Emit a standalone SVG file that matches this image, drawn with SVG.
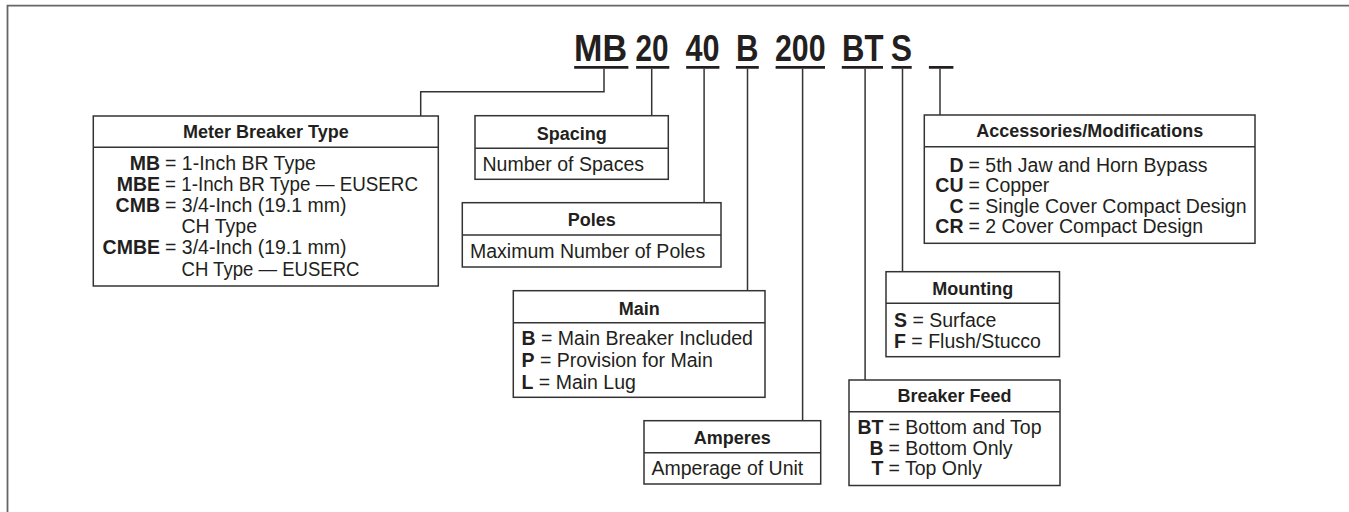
<svg xmlns="http://www.w3.org/2000/svg" width="1349" height="512" viewBox="0 0 1349 512">
<style>
text{font-family:"Liberation Sans",Arial,sans-serif;fill:#231f20}
.code{font-size:37px;font-weight:bold}
.t{font-size:18px;font-weight:bold;text-anchor:middle}
.b{font-size:19.5px}
.k{font-weight:bold}
.box{fill:#fff;stroke:#333;stroke-width:1.5}
.div{stroke:#333;stroke-width:1.5}
.con{fill:none;stroke:#333;stroke-width:1.5}
.ul{stroke:#231f20;stroke-width:2.8}
</style>
<rect width="1349" height="512" fill="#fff"/>
<path d="M7.5 512V5.7H1349" fill="none" stroke="#666" stroke-width="1.8"/>
<g id="code">
<text class="code" x="574" y="61" textLength="53" lengthAdjust="spacingAndGlyphs">MB</text>
<text class="code" x="635.5" y="61" textLength="33" lengthAdjust="spacingAndGlyphs">20</text>
<text class="code" x="685.5" y="61" textLength="34" lengthAdjust="spacingAndGlyphs">40</text>
<text class="code" x="736" y="61" textLength="22.5" lengthAdjust="spacingAndGlyphs">B</text>
<text class="code" x="775" y="61" textLength="50.5" lengthAdjust="spacingAndGlyphs">200</text>
<text class="code" x="842" y="61" textLength="41.5" lengthAdjust="spacingAndGlyphs">BT</text>
<text class="code" x="891" y="61" textLength="21" lengthAdjust="spacingAndGlyphs">S</text>
<path class="ul" d="M574.2 67.3H628.4M636.1 67.3H669.3M686.2 67.3H719.4M735.9 67.3H758.8M775.6 67.3H825M841.8 67.3H883M891.5 67.3H911.7M928.9 67.3H953.4"/>
</g>
<g id="connectors">
<path class="con" d="M604 68.7V91.7H420.7V116"/>
<path class="con" d="M651.7 68.7V115.7"/>
<path class="con" d="M704.1 68.7V202.7"/>
<path class="con" d="M747.5 68.7V290.7"/>
<path class="con" d="M802.6 68.7V420.7"/>
<path class="con" d="M865.1 68.7V380"/>
<path class="con" d="M902.5 68.7V271.7"/>
<path class="con" d="M940 68.7V115"/>
</g>
<g id="meter-breaker-type">
<rect class="box" x="93.3" y="116" width="345" height="170"/>
<line class="div" x1="93.3" y1="147.3" x2="438.3" y2="147.3"/>
<text class="t" x="265.8" y="138">Meter Breaker Type</text>
<text class="b" y="169.5"><tspan class="k" x="160" text-anchor="end">MB</tspan><tspan x="165">= 1-Inch BR Type</tspan></text>
<text class="b" y="190.7"><tspan class="k" x="160" text-anchor="end">MBE</tspan><tspan x="165" textLength="253" lengthAdjust="spacingAndGlyphs">= 1-Inch BR Type — EUSERC</tspan></text>
<text class="b" y="211.9"><tspan class="k" x="160" text-anchor="end">CMB</tspan><tspan x="165">= 3/4-Inch (19.1 mm)</tspan></text>
<text class="b" x="181.5" y="233.1">CH Type</text>
<text class="b" y="254.3"><tspan class="k" x="160" text-anchor="end">CMBE</tspan><tspan x="165">= 3/4-Inch (19.1 mm)</tspan></text>
<text class="b" x="181.5" y="275.5" textLength="178" lengthAdjust="spacingAndGlyphs">CH Type — EUSERC</text>
</g>
<g id="spacing">
<rect class="box" x="475" y="115.7" width="193.3" height="63.6"/>
<line class="div" x1="475" y1="148.3" x2="668.3" y2="148.3"/>
<text class="t" x="571.7" y="140">Spacing</text>
<text class="b" x="482.5" y="170.7">Number of Spaces</text>
</g>
<g id="poles">
<rect class="box" x="462.3" y="202.7" width="258.7" height="64.3"/>
<line class="div" x1="462.3" y1="235" x2="721" y2="235"/>
<text class="t" x="591.7" y="226">Poles</text>
<text class="b" x="470" y="258.3">Maximum Number of Poles</text>
</g>
<g id="main">
<rect class="box" x="513.3" y="290.7" width="251.7" height="106.6"/>
<line class="div" x1="513.3" y1="322.7" x2="765" y2="322.7"/>
<text class="t" x="639.2" y="314.5">Main</text>
<text class="b" x="521.5" y="345"><tspan class="k">B</tspan> = Main Breaker Included</text>
<text class="b" x="521.5" y="367"><tspan class="k">P</tspan> = Provision for Main</text>
<text class="b" x="521.5" y="389"><tspan class="k">L</tspan> = Main Lug</text>
</g>
<g id="amperes">
<rect class="box" x="644" y="420.7" width="176.7" height="63.3"/>
<line class="div" x1="644" y1="452.7" x2="820.7" y2="452.7"/>
<text class="t" x="732.3" y="444">Amperes</text>
<text class="b" x="651.5" y="475">Amperage of Unit</text>
</g>
<g id="breaker-feed">
<rect class="box" x="849" y="380" width="211" height="105.5"/>
<line class="div" x1="849" y1="411.7" x2="1060" y2="411.7"/>
<text class="t" x="954.5" y="402">Breaker Feed</text>
<text class="b" y="434"><tspan class="k" x="883.5" text-anchor="end">BT</tspan><tspan x="888.5">= Bottom and Top</tspan></text>
<text class="b" y="454.5"><tspan class="k" x="883.5" text-anchor="end">B</tspan><tspan x="888.5">= Bottom Only</tspan></text>
<text class="b" y="475"><tspan class="k" x="883.5" text-anchor="end">T</tspan><tspan x="888.5">= Top Only</tspan></text>
</g>
<g id="mounting">
<rect class="box" x="886" y="271.7" width="173.5" height="85"/>
<line class="div" x1="886" y1="303.3" x2="1059.5" y2="303.3"/>
<text class="t" x="972.7" y="295">Mounting</text>
<text class="b" x="894" y="326.7"><tspan class="k">S</tspan> = Surface</text>
<text class="b" x="894" y="348.3"><tspan class="k">F</tspan> = Flush/Stucco</text>
</g>
<g id="accessories">
<rect class="box" x="924.3" y="115" width="330.7" height="128.3"/>
<line class="div" x1="924.3" y1="146.7" x2="1255" y2="146.7"/>
<text class="t" x="1089.7" y="137.3">Accessories/Modifications</text>
<text class="b" y="171.5"><tspan class="k" x="963.5" text-anchor="end">D</tspan><tspan x="968.5">= 5th Jaw and Horn Bypass</tspan></text>
<text class="b" y="192"><tspan class="k" x="963.5" text-anchor="end">CU</tspan><tspan x="968.5">= Copper</tspan></text>
<text class="b" y="212.5"><tspan class="k" x="963.5" text-anchor="end">C</tspan><tspan x="968.5">= Single Cover Compact Design</tspan></text>
<text class="b" y="233"><tspan class="k" x="963.5" text-anchor="end">CR</tspan><tspan x="968.5">= 2 Cover Compact Design</tspan></text>
</g>
</svg>
